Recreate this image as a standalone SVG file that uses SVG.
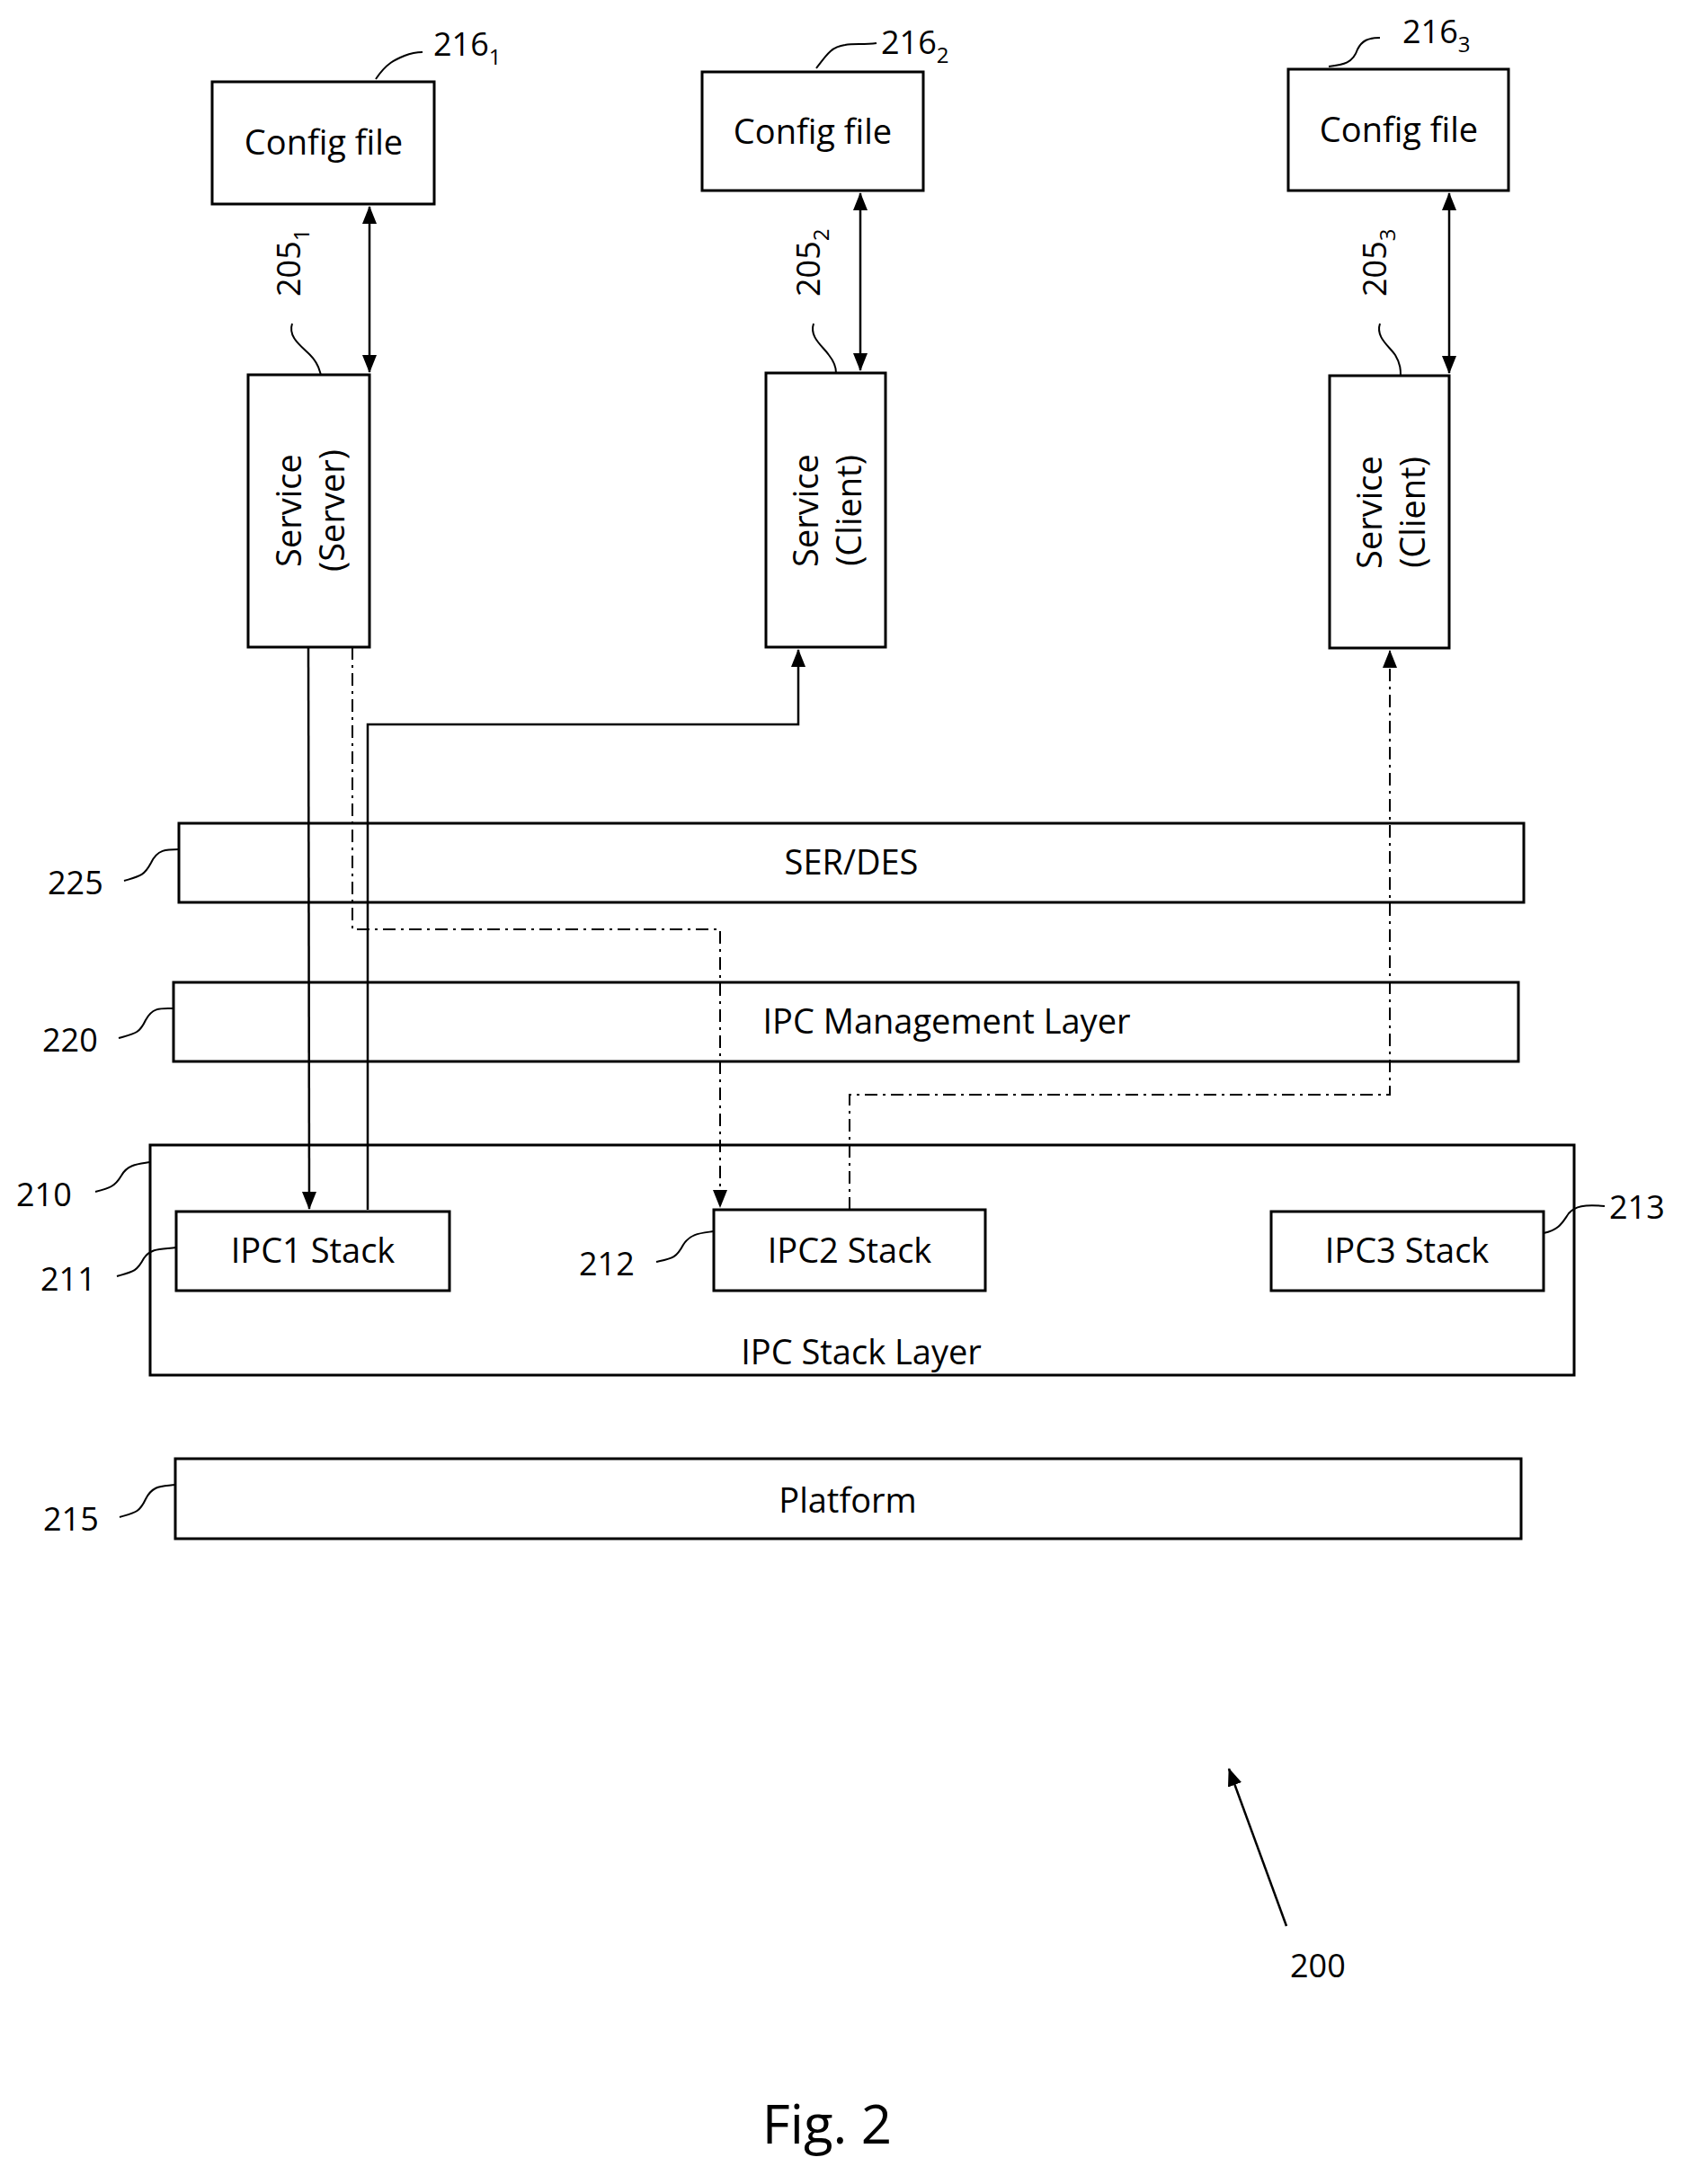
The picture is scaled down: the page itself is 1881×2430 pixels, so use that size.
<svg xmlns="http://www.w3.org/2000/svg" width="1881" height="2430" viewBox="0 0 1881 2430">
<style>
.b{fill:#fff;stroke:#000;stroke-width:3}
.t{font-family:"Open Sans","Liberation Sans",sans-serif;font-size:38px;fill:#000;text-anchor:middle}
.l{font-family:"Open Sans","Liberation Sans",sans-serif;font-size:36px;fill:#000}
.c{fill:none;stroke:#000;stroke-width:2.5}
.d{fill:none;stroke:#000;stroke-width:2;stroke-dasharray:14 6 3 6}
.ld{fill:none;stroke:#000;stroke-width:2}
</style>
<defs>
<marker id="a" markerWidth="10" markerHeight="10" refX="9" refY="5" orient="auto-start-reverse" markerUnits="userSpaceOnUse" viewBox="0 0 10 10"><path d="M0,0L10,5L0,10Z" fill="#000"/></marker>
<marker id="ab" markerWidth="20" markerHeight="16" refX="19" refY="8" orient="auto-start-reverse" markerUnits="userSpaceOnUse" viewBox="0 0 20 16"><path d="M0,0L20,8L0,16Z" fill="#000"/></marker>
</defs>
<g id="config1"><rect class="b" x="236" y="91" width="247" height="136"/><text class="t" x="360" y="172">Config file</text></g>
<g id="config2"><rect class="b" x="781" y="80" width="246" height="132"/><text class="t" x="904" y="160">Config file</text></g>
<g id="config3"><rect class="b" x="1433" y="77" width="245" height="135"/><text class="t" x="1556" y="158">Config file</text></g>
<g id="server"><rect class="b" x="276" y="417" width="135" height="303"/><text class="t" transform="translate(343,568) rotate(-90)"><tspan x="0" y="-8">Service</tspan><tspan x="0" y="40">(Server)</tspan></text></g>
<g id="client2"><rect class="b" x="852" y="415" width="133" height="305"/><text class="t" transform="translate(918,568) rotate(-90)"><tspan x="0" y="-8">Service</tspan><tspan x="0" y="40">(Client)</tspan></text></g>
<g id="client3"><rect class="b" x="1479" y="418" width="133" height="303"/><text class="t" transform="translate(1545,570) rotate(-90)"><tspan x="0" y="-8">Service</tspan><tspan x="0" y="40">(Client)</tspan></text></g>
<g id="serdes"><rect class="b" x="199" y="916" width="1496" height="88"/><text class="t" x="947" y="973">SER/DES</text></g>
<g id="ipcmgmt"><rect class="b" x="193" y="1093" width="1496" height="88"/><text class="t" x="1053" y="1150">IPC Management Layer</text></g>
<g id="stacklayer"><rect class="b" x="167" y="1274" width="1584" height="256"/><text class="t" x="958" y="1518">IPC Stack Layer</text></g>
<g id="ipc1"><rect class="b" x="196" y="1348" width="304" height="88"/><text class="t" x="348" y="1405">IPC1 Stack</text></g>
<g id="ipc2"><rect class="b" x="794" y="1346" width="302" height="90"/><text class="t" x="945" y="1405">IPC2 Stack</text></g>
<g id="ipc3"><rect class="b" x="1414" y="1348" width="303" height="88"/><text class="t" x="1565" y="1405">IPC3 Stack</text></g>
<g id="platform"><rect class="b" x="195" y="1623" width="1497" height="89"/><text class="t" x="943" y="1683">Platform</text></g>
<g id="connectors">
<line class="c" x1="411" y1="230" x2="411" y2="414" marker-start="url(#ab)" marker-end="url(#ab)"/>
<line class="c" x1="957" y1="215" x2="957" y2="412" marker-start="url(#ab)" marker-end="url(#ab)"/>
<line class="c" x1="1612" y1="215" x2="1612" y2="415" marker-start="url(#ab)" marker-end="url(#ab)"/>
<polyline class="c" points="343,720 344,1345" marker-end="url(#ab)"/>
<polyline class="c" points="409,1346 409,806 888,806 888,723" marker-end="url(#ab)"/>
<polyline class="d" points="392,720 392,1034 801,1034 801,1343" marker-end="url(#ab)"/>
<polyline class="d" points="945,1346 945,1218 1546,1218 1546,724" marker-end="url(#ab)"/>
<line class="c" x1="1431" y1="2143" x2="1367" y2="1968" marker-end="url(#ab)"/>
</g>
<g id="labels">
<path class="ld" d="M418,88 C430,70 440,66 450,62 455,60 460,58 470,58"/>
<text class="l" x="482" y="62">216<tspan font-size="24" dy="10">1</tspan></text>
<path class="ld" d="M908,76 C920,60 925,52 940,50 950,48 960,50 975,48"/>
<text class="l" x="980" y="60">216<tspan font-size="24" dy="10">2</tspan></text>
<path class="ld" d="M1478,74 C1495,72 1505,70 1510,55 1515,45 1522,42 1535,42"/>
<text class="l" x="1560" y="48">216<tspan font-size="24" dy="10">3</tspan></text>
<text class="l" transform="translate(334,330) rotate(-90)">205<tspan font-size="24" dy="10">1</tspan></text>
<text class="l" transform="translate(912,330) rotate(-90)">205<tspan font-size="24" dy="10">2</tspan></text>
<text class="l" transform="translate(1542,330) rotate(-90)">205<tspan font-size="24" dy="10">3</tspan></text>
<path class="ld" d="M325,360 C320,375 335,385 345,395 355,405 355,412 357,417"/>
<path class="ld" d="M905,360 C900,375 915,385 922,395 930,405 930,412 930,415"/>
<path class="ld" d="M1535,360 C1530,375 1545,385 1552,395 1558,405 1558,412 1558,418"/>
<text class="l" x="53" y="995">225</text><path class="ld" d="M138,980 C155,975 160,975 168,960 175,945 185,945 199,945"/>
<text class="l" x="47" y="1170">220</text><path class="ld" d="M132,1155 C150,1150 155,1150 162,1135 170,1120 180,1122 193,1122"/>
<text class="l" x="18" y="1342">210</text><path class="ld" d="M106,1326 C122,1322 128,1320 135,1308 142,1295 155,1295 167,1293"/>
<text class="l" x="45" y="1436">211</text><path class="ld" d="M130,1420 C148,1415 152,1415 160,1400 168,1388 180,1390 196,1388"/>
<text class="l" x="644" y="1419">212</text><path class="ld" d="M730,1404 C748,1400 752,1400 760,1385 768,1372 780,1372 794,1370"/>
<text class="l" x="1790" y="1356">213</text><path class="ld" d="M1717,1372 C1735,1368 1738,1360 1745,1350 1752,1342 1762,1340 1785,1342"/>
<text class="l" x="48" y="1703">215</text><path class="ld" d="M133,1688 C150,1683 155,1683 162,1668 170,1652 180,1654 195,1652"/>
<text class="l" x="1435" y="2200">200</text>
<text class="t" x="920" y="2385" style="font-size:60px">Fig. 2</text>
</g>
</svg>
